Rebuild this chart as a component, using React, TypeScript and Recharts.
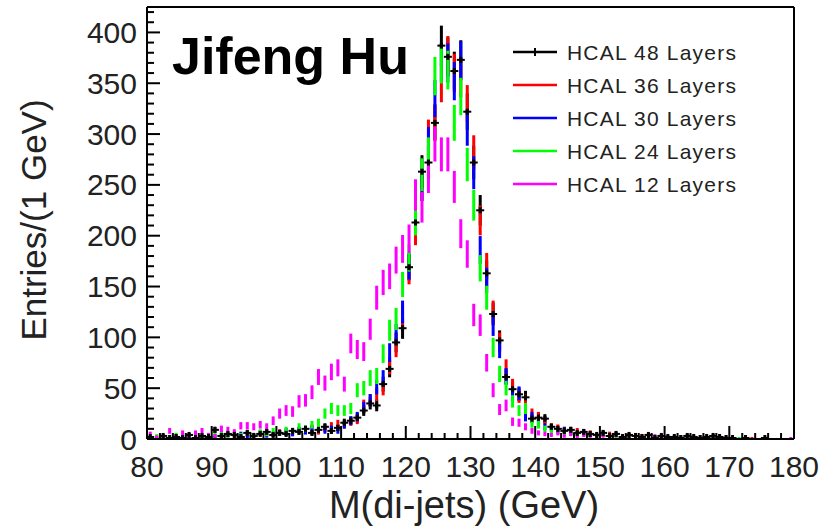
import { ComposedChart, Scatter, ErrorBar, XAxis, YAxis, Legend } from "recharts";

const FONT = '"Liberation Sans", Arial, sans-serif';

// bin low edges, 1 GeV wide, 80..179
const binLow = Array.from({ length: 100 }, (_, i) => 80 + i);

const hcal48 = [
  2, 0, 3, 1, 2, 1, 4, 1, 3, 2,
  9, 3, 5, 4, 2, 6, 3, 5, 7, 4,
  6, 5, 8, 7, 10, 6, 9, 12, 8, 11,
  16, 18, 21, 28, 35, 33, 54, 69, 95, 109,
  169, 213, 263, 272, 311, 387, 376, 362, 373, 322,
  272, 225, 163, 123, 97, 61, 49, 44, 41, 20,
  21, 20, 12, 10, 8, 9, 6, 7, 5, 4,
  6, 3, 5, 2, 4, 3, 2, 4, 1, 3,
  2, 2, 1, 3, 2, 1, 2, 3, 2, 1,
  1, 0, 1, 0, 0, 1, 0, 0, 0, 0,
];

const hcal36 = [
  1, 2, 0, 1, 3, 0, 2, 1, 2, 3,
  2, 4, 3, 5, 3, 4, 2, 6, 5, 4,
  7, 6, 5, 9, 8, 11, 7, 10, 13, 15,
  14, 17, 19, 33, 38, 44, 50, 72, 90, 121,
  165, 205, 250, 297, 312, 350, 377, 360, 355, 330,
  282, 215, 170, 125, 95, 70, 52, 42, 38, 25,
  22, 18, 12, 11, 9, 7, 8, 5, 6, 4,
  4, 5, 3, 2, 4, 2, 3, 1, 2, 3,
  1, 2, 2, 1, 1, 2, 1, 0, 1, 2,
  1, 0, 0, 1, 0, 0, 0, 0, 0, 0,
];

const hcal30 = [
  0, 1, 2, 1, 0, 2, 1, 3, 1, 2,
  3, 2, 4, 3, 5, 2, 4, 6, 3, 5,
  6, 8, 5, 9, 7, 10, 9, 8, 10, 8,
  14, 18, 22, 31, 38, 51, 60, 85, 103, 125,
  170, 220, 250, 290, 335, 370, 370, 352, 372, 306,
  262, 186, 156, 112, 89, 62, 44, 45, 22, 22,
  16, 12, 10, 8, 9, 6, 5, 7, 4, 3,
  5, 3, 4, 2, 3, 2, 1, 3, 2, 1,
  2, 1, 0, 2, 1, 1, 0, 1, 0, 1,
  0, 0, 1, 0, 0, 0, 0, 0, 0, 0,
];

const hcal24 = [
  1, 3, 0, 2, 4, 1, 2, 5, 3, 2,
  4, 6, 3, 5, 4, 6, 3, 7, 5, 8,
  6, 9, 8, 12, 10, 14, 16, 25, 30, 28,
  28, 30, 48, 50, 60, 62, 84, 107, 118, 152,
  178, 215, 260, 280, 357, 369, 363, 311, 337, 270,
  230, 168, 139, 90, 64, 50, 37, 28, 30, 15,
  14, 10, 8, 7, 5, 6, 4, 5, 3, 2,
  4, 2, 3, 1, 2, 3, 1, 2, 1, 2,
  1, 0, 2, 1, 1, 0, 1, 2, 0, 1,
  0, 1, 0, 0, 0, 0, 0, 0, 0, 0,
];

const hcal12 = [
  5, 2, 3, 8, 3, 6, 2, 6, 8, 4,
  3, 10, 9, 7, 13, 13, 12, 14, 12, 18,
  25, 28, 27, 37, 38, 46, 61, 55, 66, 70,
  54, 94, 88, 86, 108, 139, 154, 160, 176, 187,
  197, 240, 228, 258, 290, 280, 280, 248, 202, 182,
  122, 112, 75, 48, 29, 33, 17, 16, 12, 8,
  6, 5, 4, 6, 3, 5, 2, 4, 3, 2,
  3, 2, 4, 1, 3, 2, 1, 2, 3, 1,
  2, 1, 2, 1, 0, 1, 2, 0, 1, 0,
  1, 0, 0, 0, 0, 0, 0, 0, 0, 1,
];

const xTicks = [
  80, 82, 84, 86, 88, 90, 92, 94, 96, 98, 100, 102, 104, 106, 108, 110, 112, 114, 116, 118,
  120, 122, 124, 126, 128, 130, 132, 134, 136, 138, 140, 142, 144, 146, 148, 150, 152, 154,
  156, 158, 160, 162, 164, 166, 168, 170, 172, 174, 176, 178, 180,
];
const yTicks = [
  0, 10, 20, 30, 40, 50, 60, 70, 80, 90, 100, 110, 120, 130, 140, 150, 160, 170, 180, 190,
  200, 210, 220, 230, 240, 250, 260, 270, 280, 290, 300, 310, 320, 330, 340, 350, 360, 370,
  380, 390, 400, 410, 420,
];

// draw order: later ones on top
const series = [
  { name: "HCAL 48 Layers", color: "#000000", values: hcal48 },
  { name: "HCAL 36 Layers", color: "#ff0000", values: hcal36 },
  { name: "HCAL 30 Layers", color: "#0000ff", values: hcal30 },
  { name: "HCAL 24 Layers", color: "#00ff00", values: hcal24 },
  { name: "HCAL 12 Layers", color: "#ff00ff", values: hcal12 },
];

const legendOrder = [
  { name: "HCAL 48 Layers", color: "#000000", marker: true },
  { name: "HCAL 36 Layers", color: "#ff0000" },
  { name: "HCAL 30 Layers", color: "#0000ff" },
  { name: "HCAL 24 Layers", color: "#00ff00" },
  { name: "HCAL 12 Layers", color: "#ff00ff" },
];

const toPoints = (vals: number[]) =>
  vals
    .map((v, i) => ({ x: binLow[i] + 0.5, y: v, err: Math.sqrt(v) }))
    .filter((p) => p.y > 0);

const XTick = (props: any) => {
  const { x, y, payload } = props;
  const v = payload.value;
  const major = v % 10 === 0;
  return (
    <g>
      <line x1={x} x2={x} y1={y} y2={y - (major ? 13 : 6)} stroke="#000" strokeWidth={2} />
      {major && (
        <text x={x} y={y + 38} textAnchor="middle" fontSize={30} fontFamily={FONT} fill="#222">
          {v}
        </text>
      )}
    </g>
  );
};

const YTick = (props: any) => {
  const { x, y, payload } = props;
  const v = payload.value;
  const major = v % 50 === 0;
  return (
    <g>
      <line x1={x} x2={x + (major ? 13 : 7)} y1={y} y2={y} stroke="#000" strokeWidth={2} />
      {major && (
        <text x={x - 10} y={y + 10.5} textAnchor="end" fontSize={30} fontFamily={FONT} fill="#222">
          {v}
        </text>
      )}
    </g>
  );
};

const emptyShape = () => <g />;
const crossShape = (p: any) => (
  <g>
    <line x1={p.cx - 4} x2={p.cx + 4} y1={p.cy} y2={p.cy} stroke="#000" strokeWidth={2} />
    <line x1={p.cx} x2={p.cx} y1={p.cy - 3} y2={p.cy + 3} stroke="#000" strokeWidth={3} />
  </g>
);

const LegendBox = () => (
  <svg width={250} height={170}>
    {legendOrder.map((s, i) => {
      const cy = 17 + i * 33;
      return (
        <g key={s.name}>
          <line x1={8} x2={52} y1={cy} y2={cy} stroke={s.color} strokeWidth={2.5} />
          {s.marker && <line x1={30} x2={30} y1={cy - 4} y2={cy + 4} stroke="#000" strokeWidth={2} />}
          <text x={62} y={cy + 7.5} fontSize={21} letterSpacing={1.2} fontFamily={FONT} fill="#222">
            {s.name}
          </text>
        </g>
      );
    })}
  </svg>
);

export default function App() {
  return (
    <div style={{ position: "absolute", left: 0, top: 0, width: 832, height: 527, background: "#fff" }}>
      <ComposedChart width={832} height={527} margin={{ top: 6, right: 37, bottom: 87, left: 146 }}>
        <XAxis
          type="number"
          dataKey="x"
          domain={[80, 180]}
          ticks={xTicks}
          interval={0}
          allowDataOverflow
          height={1}
          tickLine={false}
          tickSize={0}
          tickMargin={0}
          tick={<XTick />}
          axisLine={{ stroke: "#000", strokeWidth: 2 }}
        />
        <XAxis
          xAxisId="top"
          orientation="top"
          type="number"
          domain={[80, 180]}
          height={1}
          tick={false}
          tickLine={false}
          axisLine={{ stroke: "#000", strokeWidth: 2 }}
        />
        <YAxis
          type="number"
          domain={[0, 425]}
          ticks={yTicks}
          interval={0}
          allowDataOverflow
          width={1}
          tickLine={false}
          tickSize={0}
          tickMargin={0}
          tick={<YTick />}
          axisLine={{ stroke: "#000", strokeWidth: 2 }}
        />
        <YAxis
          yAxisId="right"
          orientation="right"
          type="number"
          domain={[0, 425]}
          width={1}
          tick={false}
          tickLine={false}
          axisLine={{ stroke: "#000", strokeWidth: 2 }}
        />
        {series.map((s) => (
          <Scatter
            key={s.name}
            name={s.name}
            data={toPoints(s.values)}
            dataKey="y"
            fill={s.color}
            shape={emptyShape}
            isAnimationActive={false}
          >
            <ErrorBar dataKey="err" direction="y" width={0} stroke={s.color} strokeWidth={3} isAnimationActive={false} />
          </Scatter>
        ))}
        <Scatter
          name="HCAL 48 Layers markers"
          data={toPoints(hcal48)}
          dataKey="y"
          fill="#000"
          shape={crossShape}
          legendType="none"
          isAnimationActive={false}
        />
        <Legend
          layout="vertical"
          align="center"
          verticalAlign="middle"
          wrapperStyle={{ left: 505, top: 35, width: 250, height: 170 }}
          content={<LegendBox />}
        />
      </ComposedChart>
      <svg
        width={832}
        height={527}
        style={{ position: "absolute", left: 0, top: 0, pointerEvents: "none" }}
      >
        <text x={172} y={74} fontSize={52} fontWeight="bold" fontFamily={FONT} fill="#000">
          Jifeng Hu
        </text>
        <text
          x={46}
          y={220}
          transform="rotate(-90, 46, 220)"
          textAnchor="middle"
          fontSize={35}
          fontFamily={FONT}
          fill="#222"
        >
          Entries/(1 GeV)
        </text>
        <text x={464} y={518} textAnchor="middle" fontSize={38} fontFamily={FONT} fill="#222">
          M(di-jets) (GeV)
        </text>
      </svg>
    </div>
  );
}
